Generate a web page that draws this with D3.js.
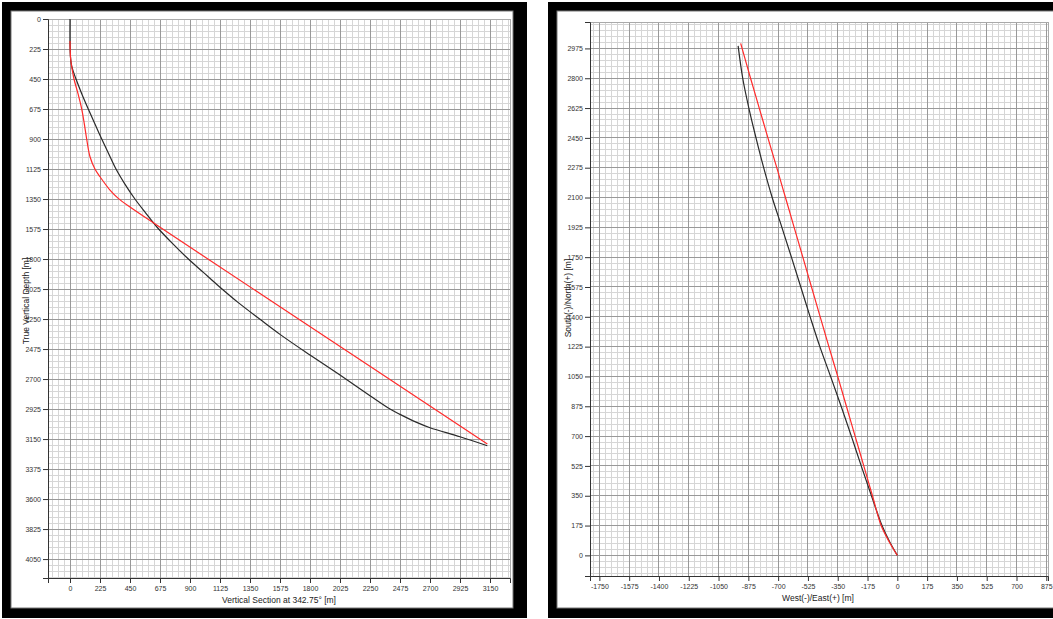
<!DOCTYPE html>
<html><head><meta charset="utf-8">
<script src="https://cdn.jsdelivr.net/npm/d3@7"></script>
<style>
body{margin:0;background:#fff;}
svg{display:block;}
text{font-family:Arial,"Liberation Sans",sans-serif;}
</style>
</head><body>
<svg id="c" width="1053" height="619"></svg>
<script>
// ---------- Data: left panel (Vertical section vs TVD) ----------
const vsTickLabels  = [0,225,450,675,900,1125,1350,1575,1800,2025,2250,2475,2700,2925,3150];
const tvdTickLabels = [0,225,450,675,900,1125,1350,1575,1800,2025,2250,2475,2700,2925,3150,3375,3600,3825,4050];

const actualVS  = [0,0,3,12,27,45,88,137,188,238,290,345,413,487,568,650,770,888,1000,1112,1260,1425,1575,1800,2025,2250,2400,2475,2600,2700,2925,3130];
const actualTVD = [0,200,280,350,400,450,560,675,790,900,1010,1125,1240,1350,1455,1558,1685,1800,1900,2000,2125,2252,2365,2520,2670,2825,2925,2965,3025,3065,3133,3200];

const planVS  = [0,5,15,30,60,88,108,125,150,187,225,300,362,450,650,1575,3130];
const planTVD = [165,300,370,450,560,675,790,900,1033,1125,1183,1283,1345,1410,1545,2158,3188];

// ---------- Data: right panel (plan view) ----------
const ewTickLabels = [-1750,-1575,-1400,-1225,-1050,-875,-700,-525,-350,-175,0,175,350,525,700,875];
const nsTickLabels = [0,175,350,525,700,875,1050,1225,1400,1575,1750,1925,2100,2275,2450,2625,2800,2975];

const actualE = [0,-45,-90,-152,-212,-270,-330,-392,-455,-512,-567,-622,-678,-735,-785,-830,-872,-908,-935];
const actualN = [0,80,175,350,525,700,875,1050,1225,1400,1575,1750,1925,2100,2275,2450,2625,2800,2990];

const planE = [0,-48,-95,-146,-197,-248,-299,-350,-402,-453,-504,-555,-606,-657,-708,-760,-811,-862,-920];
const planN = [0,80,175,350,525,700,875,1050,1225,1400,1575,1750,1925,2100,2275,2450,2625,2800,3005];

const svg = d3.select("#c");

// ---------- frames ----------
function frame(x0, x1, y0, y1, inner) {
  svg.append("rect").attr("x",x0).attr("y",y0).attr("width",x1-x0).attr("height",y1-y0).attr("fill","#000");
  svg.append("rect").attr("x",inner[0]).attr("y",inner[2]).attr("width",inner[1]-inner[0]).attr("height",inner[3]-inner[2])
     .attr("fill","#fff").attr("stroke","#777").attr("stroke-width",1);
}
frame(2, 527, 2, 618, [11, 513, 11, 608]);
frame(548, 1060, 2, 618, [557, 1070, 11, 608]);

function panel(cfg) {
  const g = svg.append("g");
  const x = d3.scaleLinear().domain(cfg.xDomain).range([cfg.left, cfg.right]);
  const y = d3.scaleLinear().domain(cfg.yDomain).range(cfg.yRange);
  const [yTop, yBot] = [Math.min(...cfg.yRange), Math.max(...cfg.yRange)];

  // minor grid
  const xMinor = d3.range(Math.ceil(cfg.xDomain[0]/cfg.xMinor)*cfg.xMinor, cfg.xDomain[1]+1e-6, cfg.xMinor);
  const yMinor = d3.range(Math.ceil(Math.min(...cfg.yDomain)/cfg.yMinor)*cfg.yMinor, Math.max(...cfg.yDomain)+1e-6, cfg.yMinor);
  g.append("g").selectAll("line").data(xMinor).join("line")
    .attr("x1",d=>x(d)).attr("x2",d=>x(d)).attr("y1",yTop).attr("y2",yBot)
    .attr("stroke","#d6d6d6").attr("stroke-width",1).attr("shape-rendering","crispEdges");
  g.append("g").selectAll("line").data(yMinor).join("line")
    .attr("y1",d=>y(d)).attr("y2",d=>y(d)).attr("x1",cfg.left).attr("x2",cfg.right)
    .attr("stroke","#d6d6d6").attr("stroke-width",1).attr("shape-rendering","crispEdges");
  // major grid
  g.append("g").selectAll("line").data(cfg.xTicks).join("line")
    .attr("x1",d=>x(d)).attr("x2",d=>x(d)).attr("y1",yTop).attr("y2",yBot)
    .attr("stroke","#999").attr("stroke-width",1).attr("shape-rendering","crispEdges");
  g.append("g").selectAll("line").data(cfg.yTicks).join("line")
    .attr("y1",d=>y(d)).attr("y2",d=>y(d)).attr("x1",cfg.left).attr("x2",cfg.right)
    .attr("stroke","#999").attr("stroke-width",1).attr("shape-rendering","crispEdges");
  // plot border
  g.append("rect").attr("x",cfg.left).attr("y",yTop).attr("width",cfg.right-cfg.left).attr("height",yBot-yTop)
    .attr("fill","none").attr("stroke","#aaa").attr("shape-rendering","crispEdges");

  // axes (major with labels + minor ticks)
  const ax = g.append("g").attr("transform",`translate(0,${yBot})`);
  ax.call(d3.axisBottom(x).tickValues(xMinor).tickSize(3).tickFormat(""));
  ax.call(d3.axisBottom(x).tickValues(cfg.xTicks).tickSize(5).tickPadding(3).tickFormat(d=>d));
  const ay = g.append("g").attr("transform",`translate(${cfg.left},0)`);
  ay.call(d3.axisLeft(y).tickValues(yMinor).tickSize(3).tickFormat(""));
  ay.call(d3.axisLeft(y).tickValues(cfg.yTicks).tickSize(5).tickPadding(2).tickFormat(d=>d));
  g.selectAll(".domain").attr("stroke","#333");
  g.selectAll(".tick line").attr("stroke","#333");
  g.selectAll(".tick text").attr("font-size","7px").attr("fill","#333").attr("font-family","Arial,'Liberation Sans',sans-serif");

  // curves
  const line = (xs, ys) => d3.line().x((d,i)=>x(xs[i])).y((d,i)=>y(ys[i])).curve(d3.curveCatmullRom.alpha(0.5))(xs);
  g.append("path").attr("d", line(cfg.actX, cfg.actY)).attr("fill","none").attr("stroke","#2a2a2a").attr("stroke-width",1.2);
  g.append("path").attr("d", line(cfg.planX, cfg.planY)).attr("fill","none").attr("stroke","#ff2a2a").attr("stroke-width",1.2);

  // titles
  g.append("text").attr("x",cfg.xTitlePos[0]).attr("y",cfg.xTitlePos[1]).attr("text-anchor","middle")
    .attr("font-size","8.5px").attr("fill","#222").text(cfg.xTitle);
  g.append("text").attr("transform",`translate(${cfg.yTitlePos[0]},${cfg.yTitlePos[1]}) rotate(-90)`).attr("text-anchor","middle")
    .attr("font-size","8.5px").attr("fill","#222").text(cfg.yTitle);
}

panel({
  xDomain:[-165,3300], left:48, right:510,
  yDomain:[0,4192], yRange:[19,578],
  xTicks:vsTickLabels, yTicks:tvdTickLabels, xMinor:45, yMinor:45,
  actX:actualVS, actY:actualTVD, planX:planVS, planY:planTVD,
  xTitle:"Vertical Section at 342.75° [m]", xTitlePos:[279,603],
  yTitle:"True Vertical Depth [m]", yTitlePos:[29,301]
});
panel({
  xDomain:[-1805,885], left:590, right:1048,
  yDomain:[-121,3130], yRange:[576,22],
  xTicks:ewTickLabels, yTicks:nsTickLabels, xMinor:35, yMinor:35,
  actX:actualE, actY:actualN, planX:planE, planY:planN,
  xTitle:"West(-)/East(+) [m]", xTitlePos:[818,601],
  yTitle:"South(-)/North(+) [m]", yTitlePos:[571,298]
});
</script>
</body></html>
